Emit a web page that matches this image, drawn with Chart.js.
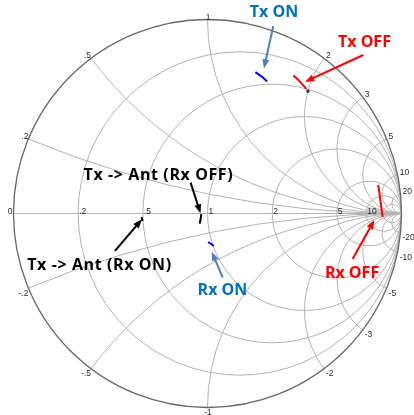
<!DOCTYPE html>
<html>
<head>
<meta charset="utf-8">
<script src="https://cdn.jsdelivr.net/npm/chart.js@4.4.1/dist/chart.umd.min.js"></script>
<style>
  html, body { margin: 0; padding: 0; background: #fff; }
  #wrap { width: 414px; height: 415px; position: relative; }
</style>
</head>
<body>
<div id="wrap"><canvas id="smith"></canvas></div>
<script>
// Smith chart grid
const resistanceCircles = [0.2, 0.5, 1, 2, 5, 10, 20];
const resistanceTicks = [0, 0.2, 0.5, 1, 2, 5, 10];
const resistanceTickLabels = ['0', '.2', '.5', '1', '2', '5', '10'];
const reactanceArcs = [0.2, 0.5, 1, 2, 3, 5, 10, 20];
const reactanceTickLabels = ['.2', '.5', '1', '2', '3', '5', '10', '20'];

// Measured traces as reflection coefficient (real, imaginary)
const txOnRe = [0.247, 0.265, 0.286, 0.307];
const txOnIm = [0.729, 0.716, 0.701, 0.680];
const txOffRe = [0.443, 0.466, 0.487, 0.510];
const txOffIm = [0.711, 0.691, 0.668, 0.642];
const rxOffRe = [0.880, 0.887, 0.893, 0.903];
const rxOffIm = [0.147, 0.100, 0.053, -0.017];
const rxOnRe = [0.003, 0.018, 0.032];
const rxOnIm = [-0.147, -0.156, -0.168];
const antRxOffRe = [-0.032, -0.035, -0.040];
const antRxOffIm = [-0.003, -0.026, -0.052];
const antRxOnRe = [-0.340, -0.335];
const antRxOnIm = [-0.018, -0.039];
const markerRe = [0.518];
const markerIm = [0.631];

// Callouts: text centre and arrow tail/head, in the same plane
const noteTexts = ['Tx ON', 'Tx OFF', 'Rx OFF', 'Rx ON', 'Tx -> Ant (Rx OFF)', 'Tx -> Ant (Rx ON)'];
const noteRe = [0.343, 0.809, 0.745, 0.077, -0.253, -0.557];
const noteIm = [1.036, 0.884, -0.309, -0.399, 0.198, -0.268];
const noteColors = ['#0070C0', '#FF0000', '#FF0000', '#0070C0', '#000000', '#000000'];
const arrowTailRe = [0.339, 0.803, 0.748, 0.078, -0.087, -0.477];
const arrowTailIm = [0.966, 0.817, -0.235, -0.329, 0.159, -0.193];
const arrowHeadRe = [0.291, 0.503, 0.860, 0.022, -0.036, -0.338];
const arrowHeadIm = [0.748, 0.679, -0.034, -0.197, 0.001, -0.030];
const arrowColors = ['#4A7EC0', '#FF0000', '#FF0000', '#4A7EC0', '#000000', '#000000'];

const toPoints = (re, im) => re.map((v, i) => ({ x: v, y: im[i] }));

function trace(label, re, im, color) {
  return {
    label, data: toPoints(re, im), showLine: true, borderColor: color,
    borderWidth: 2, pointRadius: 0, fill: false, tension: 0
  };
}

const smithGrid = {
  id: 'smithGrid',
  beforeDatasetsDraw(chart) {
    const { ctx, scales: { x, y } } = chart;
    const px = v => x.getPixelForValue(v);
    const py = v => y.getPixelForValue(v);
    const cx = px(0), cy = py(0);
    const R = px(1) - px(0);
    ctx.save();
    // everything inside the unit circle
    ctx.beginPath();
    ctx.arc(cx, cy, R, 0, Math.PI * 2);
    ctx.clip();
    ctx.strokeStyle = '#b3b3b3';
    ctx.lineWidth = 1;
    resistanceCircles.forEach(r => {
      ctx.beginPath();
      ctx.arc(px(r / (r + 1)), cy, R / (r + 1), 0, Math.PI * 2);
      ctx.stroke();
    });
    reactanceArcs.forEach(xv => {
      [xv, -xv].forEach(s => {
        ctx.beginPath();
        ctx.arc(px(1), py(1 / s), R / Math.abs(s), 0, Math.PI * 2);
        ctx.stroke();
      });
    });
    ctx.beginPath();
    ctx.moveTo(px(-1), cy);
    ctx.lineTo(px(1), cy);
    ctx.stroke();
    ctx.restore();

    // outer boundary
    ctx.save();
    ctx.strokeStyle = '#666666';
    ctx.lineWidth = 1.3;
    ctx.beginPath();
    ctx.arc(cx, cy, R, 0, Math.PI * 2);
    ctx.stroke();

    // tick labels
    ctx.fillStyle = '#2a2a2a';
    ctx.font = '8.5px "Liberation Sans", Arial, sans-serif';
    ctx.textBaseline = 'alphabetic';
    resistanceTicks.forEach((r, i) => {
      const gx = px((r - 1) / (r + 1));
      if (r === 0) { ctx.textAlign = 'right'; ctx.fillText(resistanceTickLabels[i], gx - 1, cy); }
      else { ctx.textAlign = 'left'; ctx.fillText(resistanceTickLabels[i], gx + 1, cy); }
    });
    reactanceArcs.forEach((xv, i) => {
      [1, -1].forEach(sign => {
        const s = xv * sign;
        const gr = (s * s - 1) / (s * s + 1);
        const gi = 2 * s / (s * s + 1);
        const lx = px(gr), ly = py(gi);
        const text = (sign < 0 ? '-' : '') + reactanceTickLabels[i];
        let dx = 0;
        if (gr < -0.1) { ctx.textAlign = 'right'; dx = 0; }
        else if (gr > 0.1) { ctx.textAlign = 'left'; dx = 2; }
        else { ctx.textAlign = 'center'; dx = 0.5; }
        if (sign > 0) { ctx.textBaseline = 'alphabetic'; ctx.fillText(text, lx + dx, ly); }
        else { ctx.textBaseline = 'top'; ctx.fillText(text, lx + dx, ly + 1); }
      });
    });
    ctx.restore();
  },
  afterDatasetsDraw(chart) {
    const { ctx, scales: { x, y } } = chart;
    ctx.save();
    // arrows
    arrowTailRe.forEach((_, i) => {
      const x0 = x.getPixelForValue(arrowTailRe[i]), y0 = y.getPixelForValue(arrowTailIm[i]);
      const x1 = x.getPixelForValue(arrowHeadRe[i]), y1 = y.getPixelForValue(arrowHeadIm[i]);
      const a = Math.atan2(y1 - y0, x1 - x0);
      const hl = 9, hw = 3.5;
      const bx = x1 - hl * Math.cos(a), by = y1 - hl * Math.sin(a);
      ctx.strokeStyle = arrowColors[i];
      ctx.fillStyle = arrowColors[i];
      ctx.lineWidth = 2;
      ctx.beginPath();
      ctx.moveTo(x0, y0);
      ctx.lineTo(bx + 1 * Math.cos(a), by + 1 * Math.sin(a));
      ctx.stroke();
      ctx.beginPath();
      ctx.moveTo(x1, y1);
      ctx.lineTo(bx - hw * Math.sin(a), by + hw * Math.cos(a));
      ctx.lineTo(bx + hw * Math.sin(a), by - hw * Math.cos(a));
      ctx.closePath();
      ctx.fill();
    });
    // callout text
    ctx.font = 'bold 16px "Open Sans", "Noto Sans", sans-serif';
    ctx.textAlign = 'center';
    ctx.textBaseline = 'middle';
    noteTexts.forEach((t, i) => {
      ctx.fillStyle = noteColors[i];
      ctx.letterSpacing = t.length > 10 ? '0.6px' : '0px';
      ctx.fillText(t, x.getPixelForValue(noteRe[i]), y.getPixelForValue(noteIm[i]));
    });
    ctx.restore();
  }
};

new Chart(document.getElementById('smith'), {
  type: 'scatter',
  data: {
    datasets: [
      trace('Tx ON', txOnRe, txOnIm, '#0000FF'),
      trace('Tx OFF', txOffRe, txOffIm, '#FF0000'),
      trace('Rx OFF', rxOffRe, rxOffIm, '#FF0000'),
      trace('Rx ON', rxOnRe, rxOnIm, '#0000FF'),
      trace('Tx -> Ant (Rx OFF)', antRxOffRe, antRxOffIm, '#000000'),
      trace('Tx -> Ant (Rx ON)', antRxOnRe, antRxOnIm, '#000000'),
      {
        label: 'marker', data: toPoints(markerRe, markerIm), showLine: false,
        pointRadius: 1.6, pointStyle: 'rect', backgroundColor: '#444', borderColor: '#444', borderWidth: 1
      }
    ]
  },
  options: {
    responsive: true,
    maintainAspectRatio: false,
    animation: false,
    layout: { padding: { left: 13.5, right: 12.5, top: 19.5, bottom: 7.5 } },
    scales: {
      x: { type: 'linear', min: -1, max: 1, display: false },
      y: { type: 'linear', min: -1, max: 1, display: false }
    },
    plugins: { legend: { display: false }, tooltip: { enabled: false } }
  },
  plugins: [smithGrid]
});
</script>
</body>
</html>
